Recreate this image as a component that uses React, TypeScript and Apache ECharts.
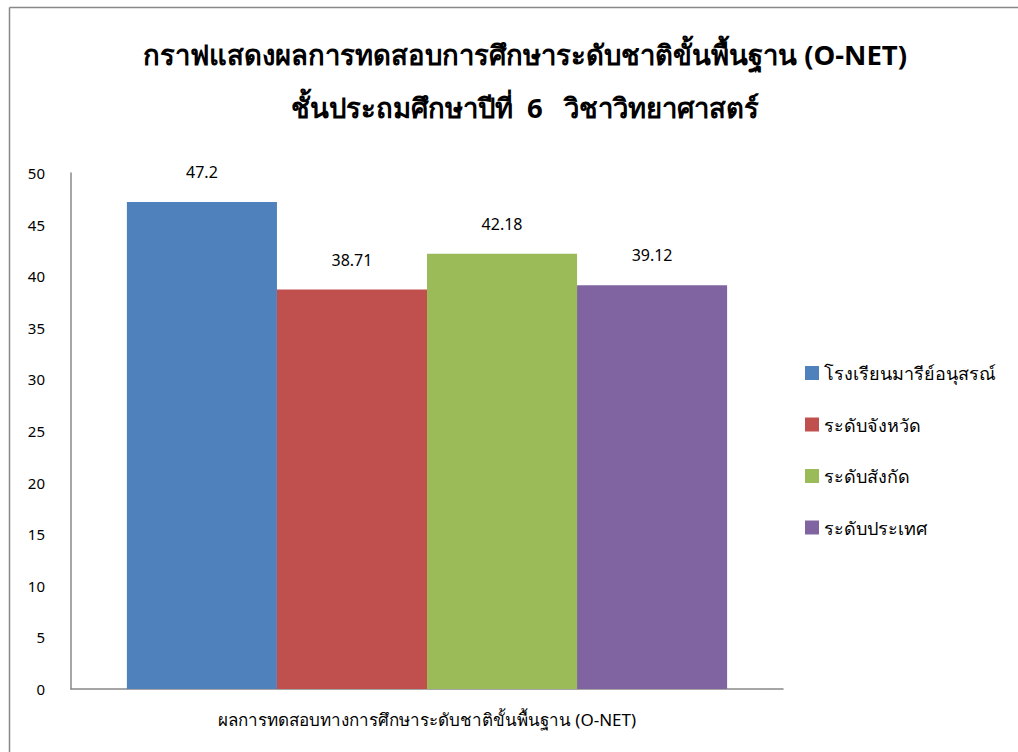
import React, { useEffect, useRef } from "react";
import * as echarts from "echarts";

const categories = ["ผลการทดสอบทางการศึกษาระดับชาติขั้นพื้นฐาน (O-NET)"];
const seriesNames = ["โรงเรียนมารีย์อนุสรณ์", "ระดับจังหวัด", "ระดับสังกัด", "ระดับประเทศ"];
const seriesValues = [47.2, 38.71, 42.18, 39.12];
const seriesColors = ["#4F81BD", "#C0504D", "#9BBB59", "#8064A2"];
const titleLines = [
  "กราฟแสดงผลการทดสอบการศึกษาระดับชาติขั้นพื้นฐาน (O-NET)",
  "ชั้นประถมศึกษาปีที่  6   วิชาวิทยาศาสตร์",
];

const FONT = "Tahoma, 'Noto Sans', 'DejaVu Sans', sans-serif";

export default function App() {
  const ref = useRef<HTMLDivElement>(null);
  useEffect(() => {
    document.body.style.margin = "0";
    const chart = echarts.init(ref.current!, null, { renderer: "svg" });
    chart.setOption({
      animation: false,
      backgroundColor: "#fff",
      textStyle: { fontFamily: FONT },
      title: {
        text: titleLines.join("\n"),
        left: 520,
        textAlign: "center",
        top: 23,
        textStyle: {
          fontFamily: FONT,
          fontSize: 27.5,
          fontWeight: "bold",
          color: "#000",
          lineHeight: 53,
        },
      },
      legend: {
        orient: "vertical",
        left: 800,
        top: 359,
        itemWidth: 14,
        itemHeight: 14,
        itemGap: 33.5,
        icon: "rect",
        textStyle: { fontFamily: FONT, fontSize: 18, color: "#000" },
        data: seriesNames,
      },
      grid: { left: 71, top: 173, width: 712, height: 516, containLabel: false },
      xAxis: {
        type: "category",
        data: categories,
        axisLine: { lineStyle: { color: "#888", width: 1.5 } },
        axisTick: { show: false },
        axisLabel: { fontFamily: FONT, fontSize: 17, color: "#000", margin: 22 },
      },
      yAxis: {
        type: "value",
        min: 0,
        max: 50,
        interval: 5,
        axisLine: { show: true, lineStyle: { color: "#888", width: 1.5 } },
        axisTick: { show: false },
        splitLine: { show: false },
        axisLabel: { fontFamily: FONT, fontSize: 15, color: "#000", margin: 26 },
      },
      series: seriesNames.map((name, i) => ({
        name,
        type: "bar",
        data: [seriesValues[i]],
        barGap: "0%",
        barCategoryGap: "15.7%",
        itemStyle: { color: seriesColors[i] },
        label: {
          show: true,
          position: "top",
          distance: 22,
          fontFamily: FONT,
          fontSize: 16,
          color: "#000",
        },
      })),
      graphic: [
        { type: "line", shape: { x1: 9.5, y1: 7.5, x2: 1018, y2: 7.5 }, style: { stroke: "#888", lineWidth: 1.5 } },
        { type: "line", shape: { x1: 9.5, y1: 7.5, x2: 9.5, y2: 752 }, style: { stroke: "#888", lineWidth: 1.5 } },
      ],
    });
    return () => chart.dispose();
  }, []);
  return <div ref={ref} style={{ width: 1018, height: 752 }} />;
}
